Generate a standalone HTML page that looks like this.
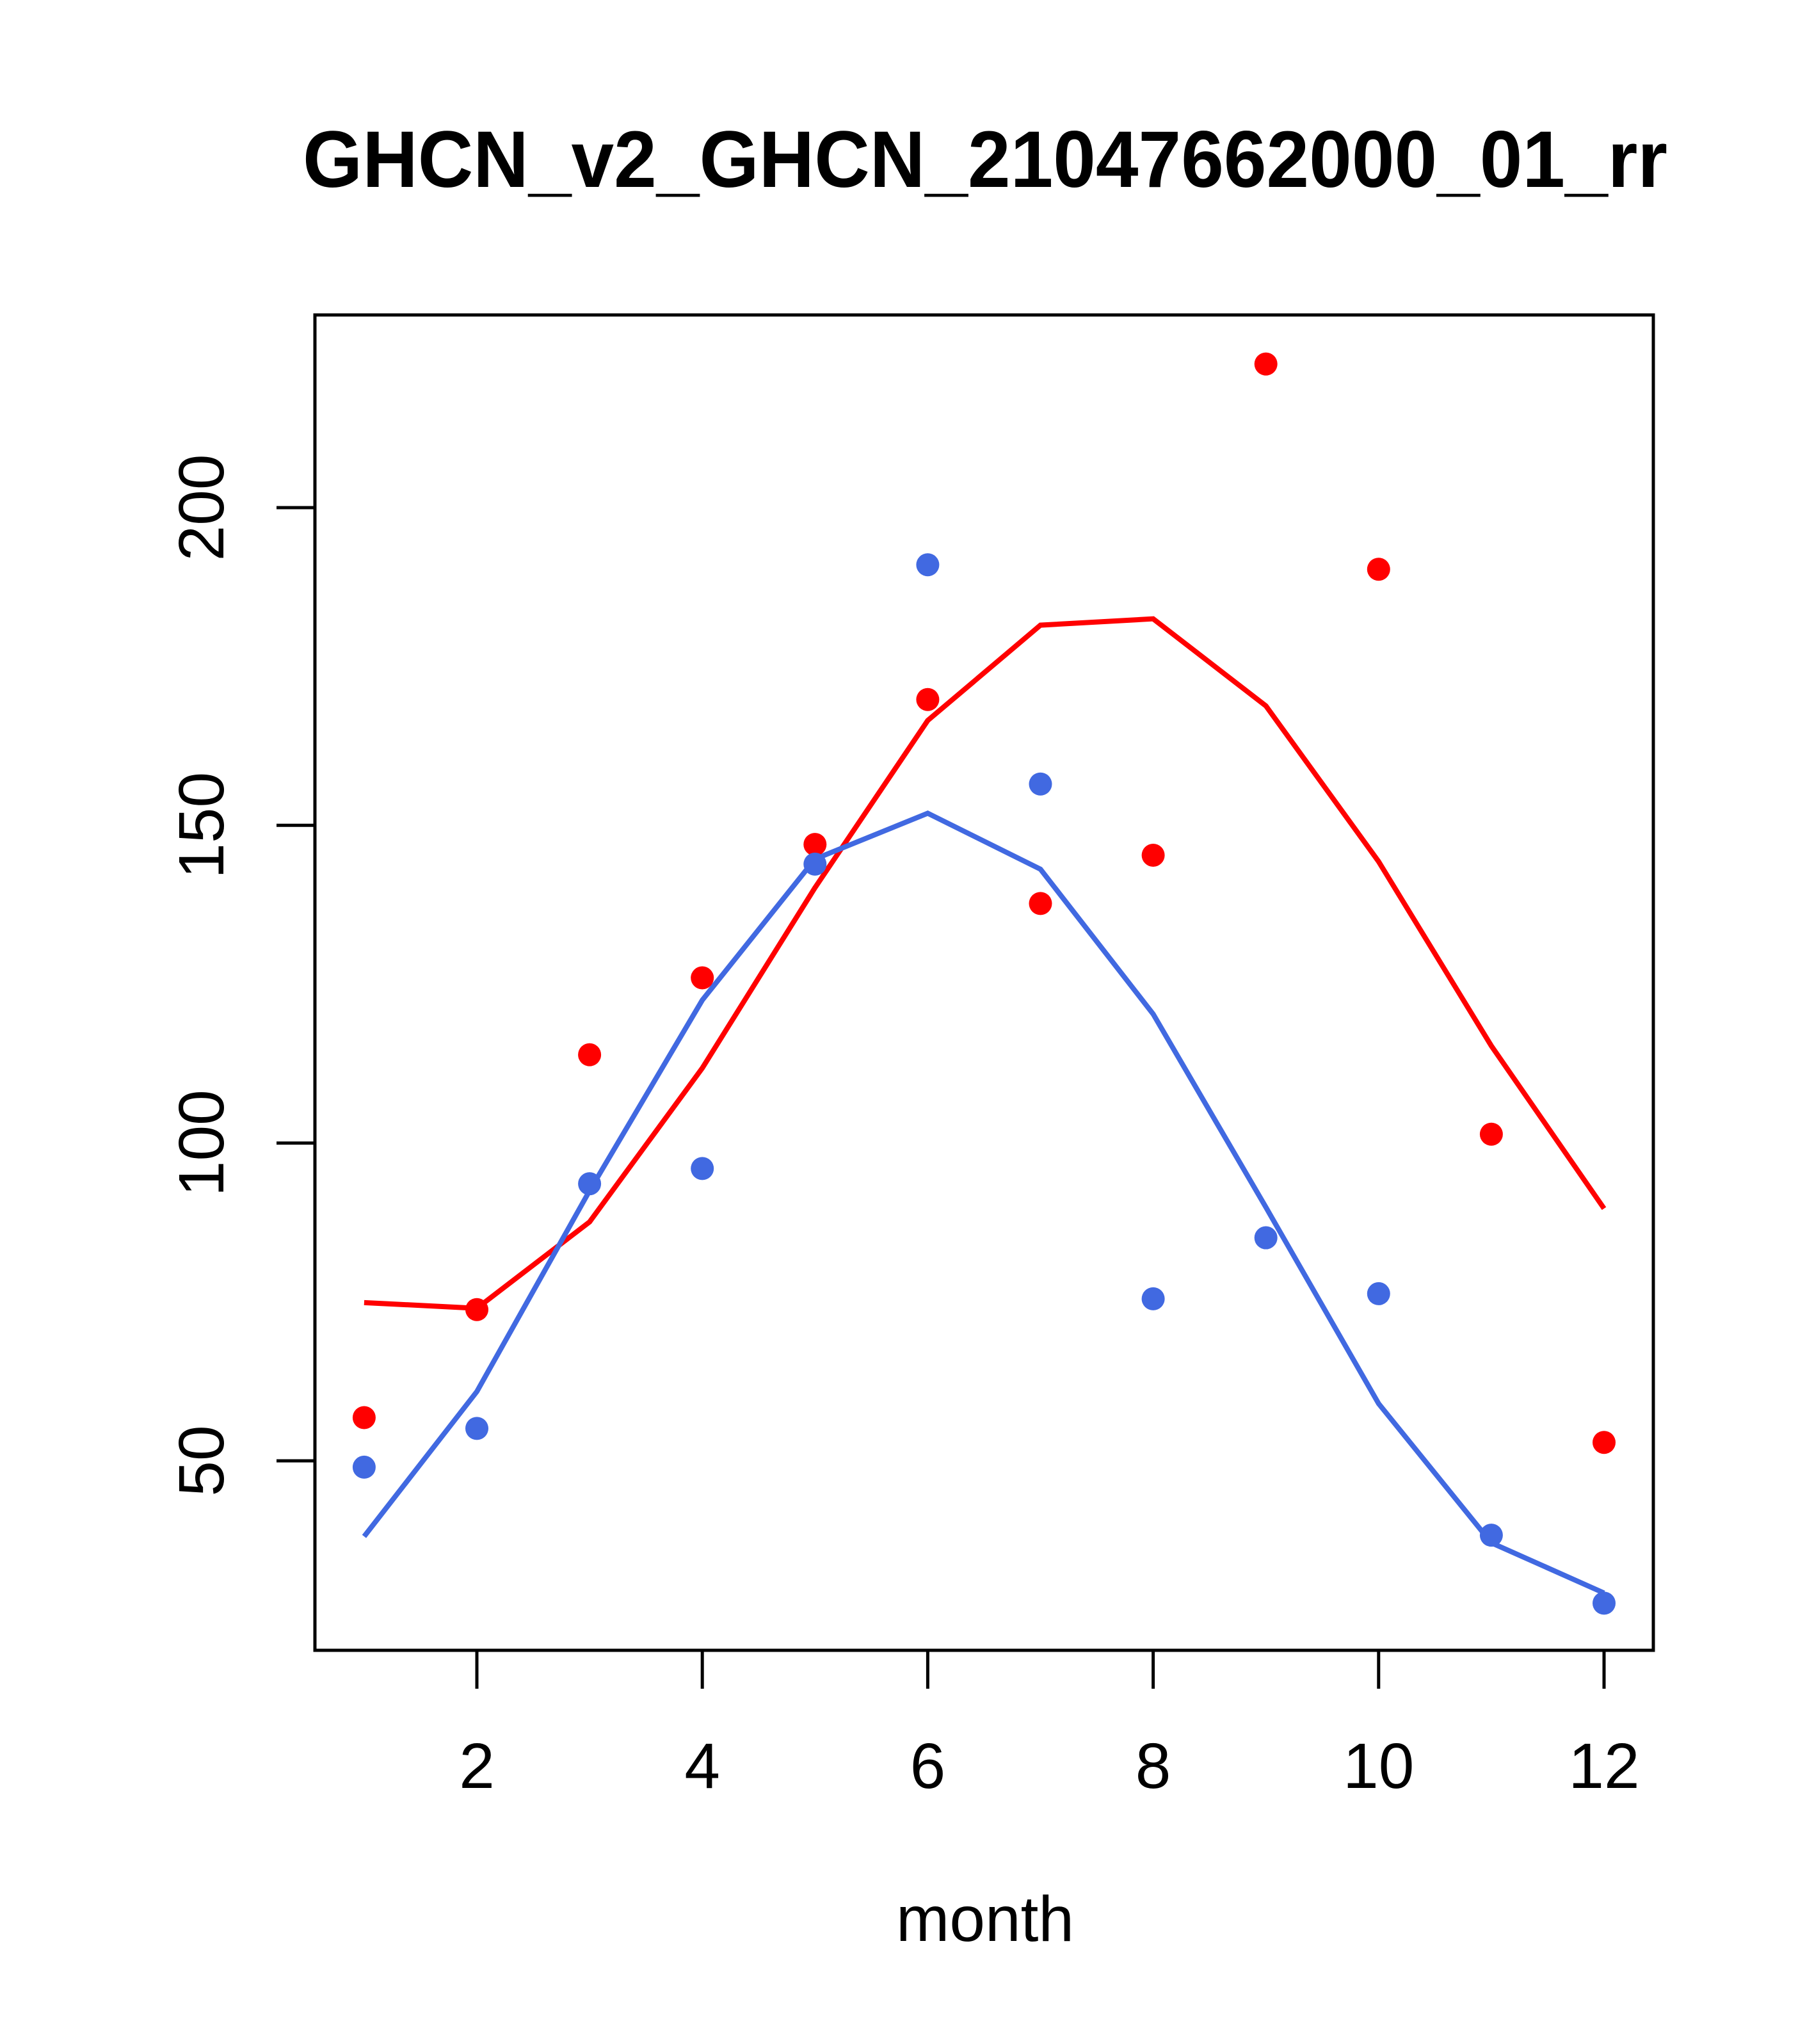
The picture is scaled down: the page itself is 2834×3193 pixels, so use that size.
<!DOCTYPE html>
<html><head><meta charset="utf-8"><style>html,body{margin:0;padding:0;background:#fff}</style></head>
<body>
<svg id="chart" width="2834" height="3188" xmlns="http://www.w3.org/2000/svg" font-family="Liberation Sans, sans-serif">
<rect width="2834" height="3188" fill="#fff"/>
<text x="1539" y="292" font-size="125" font-weight="bold" text-anchor="middle" textLength="2132" lengthAdjust="spacingAndGlyphs">GHCN_v2_GHCN_21047662000_01_rr</text>
<rect x="492" y="492" width="2091" height="2086" fill="none" stroke="#000" stroke-width="5"/>
<g id="xaxis"></g>
<g id="yaxis"></g>
<text x="1539" y="3032" font-size="100" text-anchor="middle">month</text>
<g id="marks"></g>
</svg>
<script>
const months=[1,2,3,4,5,6,7,8,9,10,11,12];
const redPoints=[56.8,73.8,113.9,126,147,169.8,137.7,145.3,222.6,190.3,101.4,52.9];
const redLine=[74.9,74,87.6,111.8,140.2,166.5,181.5,182.5,168.8,144.3,115.3,89.7];
const bluePoints=[49,55.1,93.6,96,143.9,191,156.5,75.5,85.1,76.3,38.3,27.6];
const blueLine=[38.1,60.9,92.5,122.5,144.7,151.9,143.1,120.3,89.9,59,37.1,29.2];
const xTicks=[2,4,6,8,10,12];
const yTicks=[50,100,150,200];

const NS="http://www.w3.org/2000/svg";
function X(m){return 745+(m-2)*176.1;}
function Y(v){return 2282-(v-50)*9.927;}
function mk(t,a,p){const e=document.createElementNS(NS,t);for(const k in a)e.setAttribute(k,a[k]);p.appendChild(e);return e;}
const xa=document.getElementById('xaxis'),ya=document.getElementById('yaxis'),g=document.getElementById('marks');
xTicks.forEach(t=>{
  const l=mk('line',{x1:X(t),x2:X(t),y1:2578,y2:2638,stroke:'#000','stroke-width':5},xa);
  
  
  const tx=mk('text',{x:X(t),y:2793,'font-size':100,'text-anchor':'middle'},xa);
  tx.textContent=t;
  
  
});
yTicks.forEach(t=>{
  const l=mk('line',{x1:432,x2:492,y1:Y(t),y2:Y(t),stroke:'#000','stroke-width':5},ya);
  
  
  const tx=mk('text',{x:0,y:0,'font-size':100,'text-anchor':'middle',transform:`translate(349,${Y(t)}) rotate(-90)`},ya);
  tx.textContent=t;
  
  
});
function line(vals,color,name){
  const p=mk('polyline',{points:vals.map((v,i)=>X(months[i])+','+Y(v)).join(' '),fill:'none',stroke:color,'stroke-width':8},g);
  
  
}
function pts(vals,color,name){
  vals.forEach((v,i)=>{
    const c=mk('circle',{cx:X(months[i]),cy:Y(v),r:18,fill:color},g);
    
    
  });
}
line(redLine,'#ff0000','red-line');
line(blueLine,'#4169e1','blue-line');
pts(redPoints,'#ff0000','red-point');
pts(bluePoints,'#4169e1','blue-point');
</script>
</body></html>
